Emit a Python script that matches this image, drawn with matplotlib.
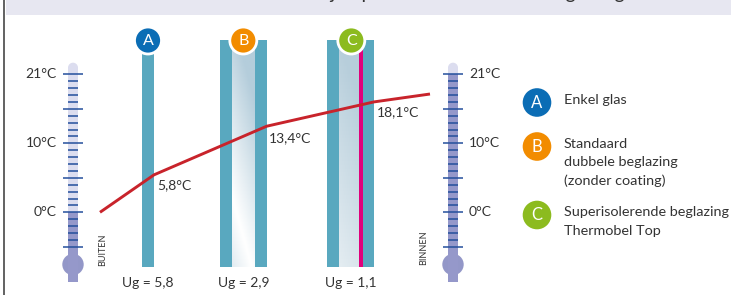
import matplotlib.pyplot as plt
import numpy as np
from matplotlib.patches import Rectangle, Circle
from matplotlib.colors import LinearSegmentedColormap

plt.rcParams['font.family'] = ['Lato', 'DejaVu Sans']

# Data
glass_ids = ["A", "B", "C"]
glass_colors = ["#0b6db5", "#f28c00", "#8cbb1f"]
ug_values = ["5,8", "2,9", "1,1"]
surface_labels = ["5,8°C", "13,4°C", "18,1°C"]
line_temps = [0, 5.7, 13.1, 16.8, 18.0]
thermo_labels = ["0°C", "10°C", "21°C"]
thermo_label_pos = [0, 10.5, 21]
thermo_levels = [0, 21]          # buiten / binnen
side_labels = ["BUITEN", "BINNEN"]
legend_texts = ["Enkel glas",
                "Standaard\ndubbele beglazing\n(zonder coating)",
                "Superisolerende beglazing\nThermobel Top"]
header = "Verschil in warmte aan de binnenzijde per soort thermische beglazing"

W, H = 731, 295
px_per_deg = (212.3 - 74.3) / 21
t_top = 212.3 / px_per_deg
t_bot = -(H - 212.3) / px_per_deg

pane = "#59a8bf"
txt = "#333333"
tick_col = "#24509c"

fig = plt.figure(figsize=(W / 100, H / 100), dpi=100)
ax = fig.add_axes([0, 0, 1, 1])
ax.set_xlim(0, W)
ax.set_ylim(H, 0)
ax.axis('off')

axT = fig.add_axes([0, 0, 1, 1])
axT.set_xlim(0, W)
axT.set_ylim(t_bot, t_top)
axT.axis('off')
axT.patch.set_alpha(0)

# header band (title cut off at the top edge, as in the source) and border
ax.add_patch(Rectangle((6, 0), W - 6, 15, color="#e7e7f1", lw=0))
ax.text(625, -0.5, header, ha='right', va='baseline', fontsize=14, color=txt)
ax.plot([3.5, 3.5], [0, H], color="#555555", lw=1.3)

# thermometers
thermo_x = [73, 453]
for cx, level in zip(thermo_x, thermo_levels):
    ax.add_patch(Rectangle((cx - 5, 67.7), 10, 190, color="#dcddef", lw=0, zorder=1))
    ax.add_patch(Circle((cx, 67.7), 5, color="#dcddef", lw=0, zorder=1))
    axT.bar(cx, level - (t_bot + 2), bottom=t_bot + 2, width=10, color="#9598ca", zorder=2)
    ax.add_patch(Circle((cx, 264.5), 10.7, color="#9397c8", lw=0, zorder=2))
    steps = np.arange(-5, 21) * 21 / 20
    for i, s in zip(range(-5, 21), steps):
        if i % 5 == 0:
            axT.hlines(s, cx - 10, cx + 10, color=tick_col, lw=1.1, zorder=3)
        else:
            axT.hlines(s, cx - 5, cx + 5, color=tick_col, lw=1.1, zorder=3)

for lab, pos in zip(thermo_labels, thermo_label_pos):
    axT.text(57, pos, lab, ha='right', va='center', fontsize=10, color=txt)
    axT.text(469, pos, lab, ha='left', va='center', fontsize=10, color=txt)

ax.text(102.5, 250, side_labels[0], rotation=90, ha='center', va='center', fontsize=6.5, color=txt)
ax.text(424, 248, side_labels[1], rotation=90, ha='center', va='center', fontsize=6.5, color=txt)

# glass panes
top, bot = 40, 266.7
cmapB = LinearSegmentedColormap.from_list("b", ["#ffffff", "#b4cddb"])
cmapC = LinearSegmentedColormap.from_list("c", ["#e9f0f4", "#b7cedb"])
yy, xx = np.mgrid[0:1:60j, 0:1:20j]

# A
ax.add_patch(Rectangle((142.3, top), 11.7, bot - top, color=pane, lw=0))
# B
ax.add_patch(Rectangle((220, top), 12.3, bot - top, color=pane, lw=0))
ax.add_patch(Rectangle((255, top), 11.7, bot - top, color=pane, lw=0))
gB = np.abs(yy * 1.0 + (1 - xx) * 0.35 - 1.05)
ax.imshow(gB, cmap=cmapB, extent=(232.3, 255, bot, top), aspect='auto', vmin=0, vmax=0.8, zorder=0.5)
# C
ax.add_patch(Rectangle((327.3, top), 12, bot - top, color=pane, lw=0))
ax.add_patch(Rectangle((363.3, top), 10.7, bot - top, color=pane, lw=0))
gC = 1 - yy * 0.9 + xx * 0.2
ax.imshow(gC, cmap=cmapC, extent=(339.3, 359, bot, top), aspect='auto', vmin=0, vmax=1, zorder=0.5)
ax.add_patch(Rectangle((359, top), 4.3, bot - top, color="#e0007b", lw=0))
ax.set_xlim(0, W)
ax.set_ylim(H, 0)

# badges above the glass
badge_x = [148, 243.3, 351.3]
for bx, gid, col in zip(badge_x, glass_ids, glass_colors):
    ax.add_patch(Circle((bx, 40.5), 13.5, facecolor=col, edgecolor='white', lw=2, zorder=4))
    ax.text(bx, 41, gid, ha='center', va='center', fontsize=11.5, color='white', zorder=5)

# Ug labels
for bx, ug in zip(badge_x, ug_values):
    ax.text(bx, 283, "Ug = " + ug, ha='center', va='center', fontsize=10, color=txt)

# temperature line
line_x = [100, 154, 266.7, 374, 430]
axT.plot(line_x, line_temps, color="#c8232b", lw=2.1, solid_capstyle='butt', zorder=6)
lab_x = [157.5, 269, 376.5]
lab_y = [185, 137.7, 111.7]
for lx, ly, s in zip(lab_x, lab_y, surface_labels):
    ax.text(lx, ly, s, ha='left', va='center', fontsize=10, color=txt, zorder=6)

# legend
leg_y = [102.5, 146.5, 215]
for gid, col, ly, t in zip(glass_ids, glass_colors, leg_y, legend_texts):
    ax.add_patch(Circle((537, ly), 14.3, color=col, lw=0))
    ax.text(537, ly + 0.5, gid, ha='center', va='center', fontsize=12, color='white')
    ax.text(564, ly - 8.5, t, ha='left', va='top', fontsize=10.4, color=txt, linespacing=1.62)

fig.savefig("out.png", dpi=100)
